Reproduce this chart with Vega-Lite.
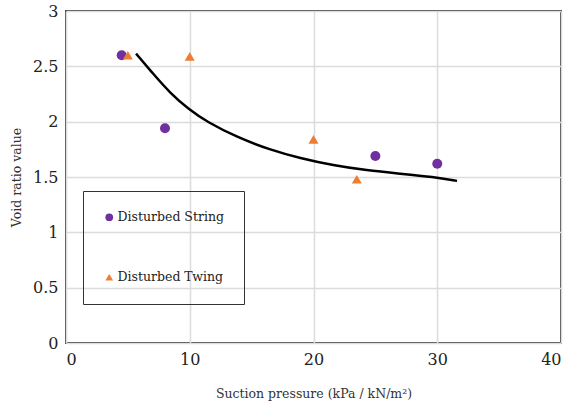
{
  "$schema": "https://vega.github.io/schema/vega-lite/v6.json",
  "autosize": "none",
  "width": 495,
  "height": 332,
  "padding": {"left": 66, "top": 11, "right": 13, "bottom": 63},
  "background": "white",
  "config": {
    "view": {"stroke": "#404040", "strokeWidth": 2},
    "font": "DejaVu Serif",
    "axis": {
      "labelFont": "DejaVu Serif",
      "titleFont": "DejaVu Serif",
      "labelFontSize": 16,
      "titleFontSize": 12.5,
      "titleFontWeight": "normal",
      "labelColor": "#222222",
      "titleColor": "#333333",
      "gridColor": "#dcdcdc",
      "gridWidth": 1.5,
      "domain": false,
      "ticks": false
    }
  },
  "datasets": {
    "points": [
      {"pressure": 4.5, "ratio": 2.6, "series": "Disturbed String"},
      {"pressure": 8.0, "ratio": 1.94, "series": "Disturbed String"},
      {"pressure": 25.0, "ratio": 1.69, "series": "Disturbed String"},
      {"pressure": 30.0, "ratio": 1.62, "series": "Disturbed String"},
      {"pressure": 5.0, "ratio": 2.6, "series": "Disturbed Twing"},
      {"pressure": 10.0, "ratio": 2.59, "series": "Disturbed Twing"},
      {"pressure": 20.0, "ratio": 1.84, "series": "Disturbed Twing"},
      {"pressure": 23.5, "ratio": 1.48, "series": "Disturbed Twing"}
    ],
    "curve": [
      {"pressure": 5.66, "ratio": 2.615},
      {"pressure": 7.06, "ratio": 2.43},
      {"pressure": 8.4, "ratio": 2.26},
      {"pressure": 9.94, "ratio": 2.11},
      {"pressure": 11.37, "ratio": 2.0},
      {"pressure": 13.8, "ratio": 1.86},
      {"pressure": 16.5, "ratio": 1.745},
      {"pressure": 18.9, "ratio": 1.67},
      {"pressure": 21.6, "ratio": 1.605},
      {"pressure": 24.3, "ratio": 1.56},
      {"pressure": 27.0, "ratio": 1.53},
      {"pressure": 29.7, "ratio": 1.5},
      {"pressure": 31.6, "ratio": 1.465}
    ]
  },
  "layer": [
    {
      "data": {"name": "curve"},
      "mark": {"type": "line", "color": "black", "strokeWidth": 2.5, "interpolate": "basis"},
      "encoding": {
        "x": {
          "field": "pressure", "type": "quantitative",
          "scale": {"domain": [0, 40], "nice": false},
          "axis": {"values": [0, 10, 20, 30, 40], "format": "~g", "title": "Suction pressure (kPa / kN/m²)", "labelPadding": 8, "titlePadding": 20}
        },
        "y": {
          "field": "ratio", "type": "quantitative",
          "scale": {"domain": [0, 3], "nice": false},
          "axis": {"values": [0, 0.5, 1, 1.5, 2, 2.5, 3], "format": "~g", "title": "Void ratio value", "labelPadding": 8, "titlePadding": 9}
        }
      }
    },
    {
      "data": {"name": "points"},
      "mark": {"type": "point", "filled": true, "opacity": 1, "size": 100},
      "encoding": {
        "x": {"field": "pressure", "type": "quantitative"},
        "y": {"field": "ratio", "type": "quantitative"},
        "color": {
          "field": "series", "type": "nominal",
          "scale": {"domain": ["Disturbed String", "Disturbed Twing"], "range": ["#7030A0", "#ED7D31"]},
          "legend": {
            "orient": "none", "legendX": 17, "legendY": 180, "title": null,
            "padding": 20, "rowPadding": 45, "strokeColor": "#333333",
            "labelFont": "DejaVu Serif", "labelFontSize": 12.5, "labelColor": "#222222",
            "symbolSize": 60, "symbolOpacity": 1, "labelOffset": 2
          }
        },
        "shape": {
          "field": "series", "type": "nominal",
          "scale": {"domain": ["Disturbed String", "Disturbed Twing"], "range": ["circle", "triangle-up"]}
        }
      }
    }
  ]
}
